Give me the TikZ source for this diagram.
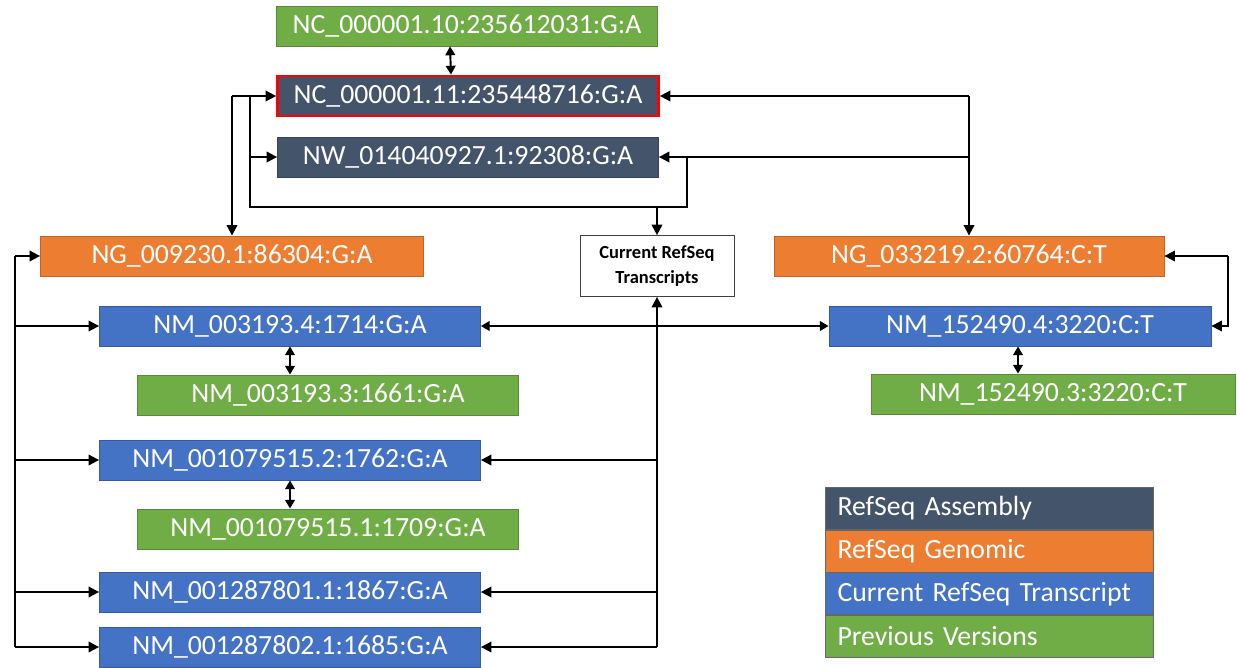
\documentclass[tikz,border=0pt]{standalone}
\usepackage{fontspec}
\setmainfont{Carlito}
\usetikzlibrary{arrows.meta}

\definecolor{prevgreen}{HTML}{70AD47}
\definecolor{asmnavy}{HTML}{44546A}
\definecolor{genorange}{HTML}{ED7D31}
\definecolor{txblue}{HTML}{4472C4}

\begin{document}
\begin{tikzpicture}[x=0.02cm, y=-0.02cm,
    box/.style={minimum width=7.62cm, minimum height=0.8cm, inner sep=0pt,
      text=white, font=\fontsize{15.8}{19}\selectfont},
    prev/.style={box, fill=prevgreen, draw=prevgreen!80!black, line width=0.5pt},
    asm/.style={box, fill=asmnavy, draw=asmnavy!80!black, line width=0.5pt},
    gen/.style={box, fill=genorange, draw=genorange!80!black, line width=0.5pt},
    tx/.style={box, fill=txblue, draw=txblue!80!black, line width=0.5pt},
    legrow/.style={minimum height=0.84cm, text width=6.06cm, inner xsep=0.25cm,
      inner ysep=0pt, align=left, anchor=north, text=white,
      draw=black!60, line width=0.4pt,
      font=\fontsize{15.8}{19}\selectfont},
    link/.style={line width=1.1pt, -{Triangle[length=6pt,width=6pt]}},
    both/.style={line width=1.1pt,
      {Triangle[length=5pt,width=5.5pt]}-{Triangle[length=5pt,width=5.5pt]}}
  ]
  \useasboundingbox (0,0) rectangle (1237,667);

  % genomic and assembly sequences
  \node[prev] (nc10) at (467,26) {NC\_000001.10:235612031:G:A};
  \node[asm, draw=red, line width=1.6pt] (nc11) at (468,96) {NC\_000001.11:235448716:G:A};
  \node[asm] (nw) at (468,157) {NW\_014040927.1:92308:G:A};
  \node[gen, minimum width=7.66cm] (ng1) at (232,256) {NG\_009230.1:86304:G:A};
  \node[gen, minimum width=7.8cm] (ng2) at (969,256) {NG\_033219.2:60764:C:T};
  \node[draw=black!75, fill=white, minimum width=3.08cm, minimum height=1.22cm,
    inner sep=0pt, align=center, font=\fontsize{10.5}{14.5}\selectfont\bfseries]
    (cur) at (657,266) {Current RefSeq\\Transcripts};

  % transcripts
  \node[tx] (nm3a) at (290,326) {NM\_003193.4:1714:G:A};
  \node[prev] (nm3b) at (328,395) {NM\_003193.3:1661:G:A};
  \node[tx] (nm79a) at (290,460) {NM\_001079515.2:1762:G:A};
  \node[prev] (nm79b) at (328,529) {NM\_001079515.1:1709:G:A};
  \node[tx] (nm01) at (290,592) {NM\_001287801.1:1867:G:A};
  \node[tx] (nm02) at (290,647) {NM\_001287802.1:1685:G:A};
  \node[tx, minimum width=7.64cm] (nm15a) at (1020,326) {NM\_152490.4:3220:C:T};
  \node[prev, minimum width=7.28cm] (nm15b) at (1053,394) {NM\_152490.3:3220:C:T};

  % legend
  \node[legrow, fill=asmnavy] (lasm) at (989,487) {RefSeq Assembly};
  \node[legrow, fill=genorange] (lgen) at (lasm.south) {RefSeq Genomic};
  \node[legrow, fill=txblue] (ltx) at (lgen.south) {Current RefSeq Transcript};
  \node[legrow, fill=prevgreen] (lprev) at (ltx.south) {Previous Versions};

  % junctions
  \coordinate (ja) at (232,96);
  \coordinate (jb) at (250,207);
  \coordinate (jc) at (687,157);
  \coordinate (jd) at (969,96);
  \coordinate (je) at (1228,256);
  \coordinate (jf) at (657,647);
  \coordinate (jg) at (15,256);

  % version links
  \draw[both] ([xshift=-0.34cm]nc10.south) -- ([xshift=-0.34cm]nc11.north);
  \draw[both] (nm3a.south) -- (nm3b.north -| nm3a.south);
  \draw[both] (nm79a.south) -- (nm79b.north -| nm79a.south);
  \draw[both] ([xshift=-0.04cm]nm15a.south) -- ([xshift=-0.04cm]nm15a.south |- nm15b.north);

  % top left
  \draw[link] (ja) -- (ng1.north);
  \draw[link] (ja) -- (nc11.west);
  \draw[line width=1.1pt] (nc11.west -| jb) -- (jb) -- (jb -| jc) -- (jc);
  \draw[link] (nw.west -| jb) -- (nw.west);
  \draw[link] (jb -| cur.north) -- (cur.north);

  % top right
  \draw[link] (jd) -- (nc11.east);
  \draw[link] (jd) -- (ng2.north);
  \draw[link] (nw.east -| jd) -- (nw.east);
  \draw[link] (je) -- (ng2.east);
  \draw[link] (je) |- (nm15a.east);

  % current transcripts
  \draw[link] (jf) -- (cur.south);
  \draw[link] (jf) -- (nm02.east);
  \draw[link] (nm01.east -| jf) -- (nm01.east);
  \draw[link] (nm79a.east -| jf) -- (nm79a.east);
  \draw[both] (nm3a.east) -- (nm15a.west);

  % left bus
  \draw[line width=1.1pt] (jg) -- (jg |- nm02.west);
  \draw[link] (jg) -- (ng1.west);
  \foreach \n in {nm3a,nm79a,nm01,nm02}
    \draw[link] (jg |- \n.west) -- (\n.west);
\end{tikzpicture}
\end{document}
